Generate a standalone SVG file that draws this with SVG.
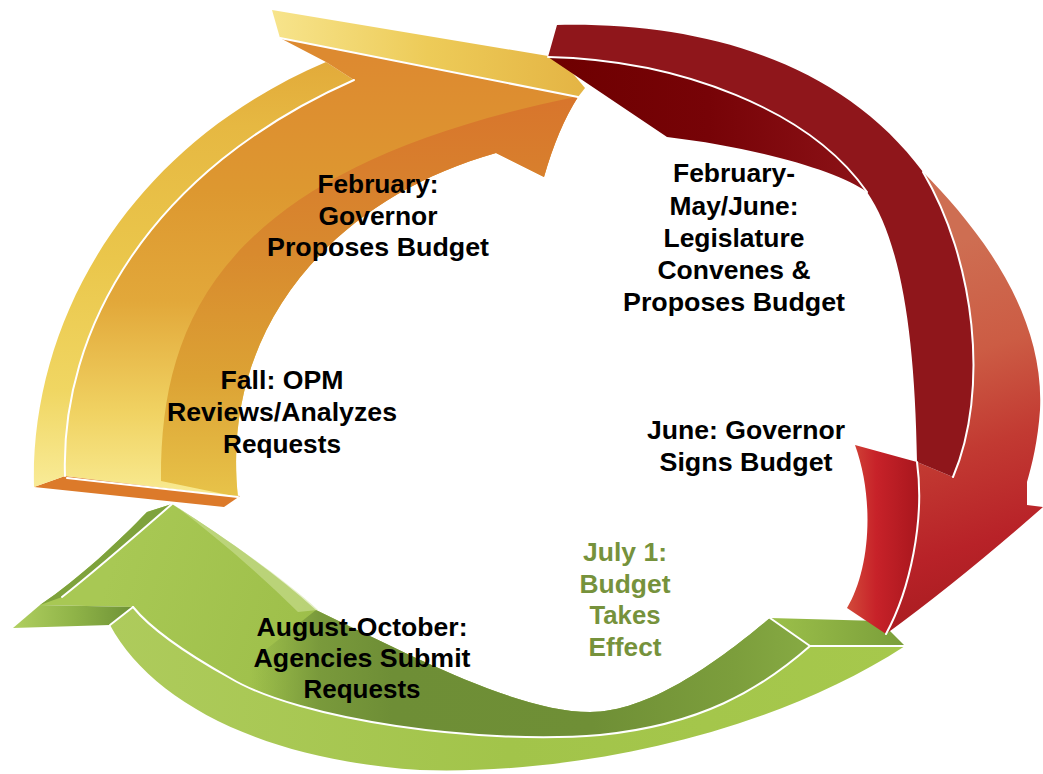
<svg xmlns="http://www.w3.org/2000/svg" width="1043" height="774" viewBox="0 0 1043 774">
<defs>
  <linearGradient id="ySide" gradientUnits="userSpaceOnUse" x1="0" y1="500" x2="0" y2="60">
    <stop offset="0" stop-color="#FAEE9E"/>
    <stop offset="0.25" stop-color="#F0D662"/>
    <stop offset="0.55" stop-color="#EAC64B"/>
    <stop offset="0.85" stop-color="#E6B842"/>
    <stop offset="1" stop-color="#E2AA3A"/>
  </linearGradient>
  <linearGradient id="yFront" gradientUnits="userSpaceOnUse" x1="0" y1="500" x2="0" y2="60">
    <stop offset="0" stop-color="#F9EC94"/>
    <stop offset="0.2" stop-color="#F0D262"/>
    <stop offset="0.45" stop-color="#E2A83A"/>
    <stop offset="0.7" stop-color="#DD9830"/>
    <stop offset="1" stop-color="#DD8A30"/>
  </linearGradient>
  <linearGradient id="yFrontDark" gradientUnits="userSpaceOnUse" x1="0" y1="500" x2="0" y2="90">
    <stop offset="0" stop-color="#E8C44A"/>
    <stop offset="0.3" stop-color="#DCA234"/>
    <stop offset="0.6" stop-color="#D88A2E"/>
    <stop offset="1" stop-color="#D8742C"/>
  </linearGradient>
  <linearGradient id="yTop" gradientUnits="userSpaceOnUse" x1="272" y1="0" x2="585" y2="0">
    <stop offset="0" stop-color="#F7E48C"/>
    <stop offset="0.5" stop-color="#EDCB58"/>
    <stop offset="1" stop-color="#E4B444"/>
  </linearGradient>
  <linearGradient id="rMaroon" gradientUnits="userSpaceOnUse" x1="550" y1="0" x2="867" y2="0">
    <stop offset="0" stop-color="#6E0000"/>
    <stop offset="0.5" stop-color="#770307"/>
    <stop offset="1" stop-color="#8C1217"/>
  </linearGradient>
  <linearGradient id="rSalmon" gradientUnits="userSpaceOnUse" x1="930" y1="250" x2="1040" y2="600">
    <stop offset="0" stop-color="#CE6E52"/>
    <stop offset="0.3" stop-color="#CC5C44"/>
    <stop offset="0.55" stop-color="#C23A32"/>
    <stop offset="0.8" stop-color="#B82228"/>
    <stop offset="1" stop-color="#A81C20"/>
  </linearGradient>
  <linearGradient id="rLeft" gradientUnits="userSpaceOnUse" x1="847" y1="0" x2="920" y2="0">
    <stop offset="0" stop-color="#D24A3A"/>
    <stop offset="0.4" stop-color="#C72229"/>
    <stop offset="1" stop-color="#A8161D"/>
  </linearGradient>
  <linearGradient id="gMain" gradientUnits="userSpaceOnUse" x1="120" y1="540" x2="420" y2="640">
    <stop offset="0" stop-color="#A8C854"/>
    <stop offset="0.6" stop-color="#9FC04B"/>
    <stop offset="1" stop-color="#8EB042"/>
  </linearGradient>
  <linearGradient id="gDark" gradientUnits="userSpaceOnUse" x1="250" y1="0" x2="820" y2="0">
    <stop offset="0" stop-color="#7A9C3C" stop-opacity="0"/>
    <stop offset="0.12" stop-color="#76963A" stop-opacity="0.9"/>
    <stop offset="0.25" stop-color="#6E8E36"/>
    <stop offset="0.6" stop-color="#6F8F36"/>
    <stop offset="0.85" stop-color="#7C9E3C"/>
    <stop offset="1" stop-color="#88AC44"/>
  </linearGradient>
  <linearGradient id="gLower" gradientUnits="userSpaceOnUse" x1="110" y1="0" x2="905" y2="0">
    <stop offset="0" stop-color="#AECB5C"/>
    <stop offset="0.5" stop-color="#A2C44A"/>
    <stop offset="1" stop-color="#A6C84C"/>
  </linearGradient>
  <linearGradient id="gBarb" gradientUnits="userSpaceOnUse" x1="13" y1="0" x2="133" y2="0">
    <stop offset="0" stop-color="#B0CF60"/>
    <stop offset="0.5" stop-color="#90B448"/>
    <stop offset="1" stop-color="#6E9236"/>
  </linearGradient>
  <linearGradient id="gTail" gradientUnits="userSpaceOnUse" x1="770" y1="0" x2="905" y2="0">
    <stop offset="0" stop-color="#9CC04A"/>
    <stop offset="1" stop-color="#7A9E3A"/>
  </linearGradient>
</defs>
<style>
  .lbl{font-family:"Liberation Sans",Arial,sans-serif;font-weight:bold;font-size:25px;text-anchor:middle;fill:#000}
  .grn{fill:#76923C}
  .wl{fill:none;stroke:#fff;stroke-width:2;stroke-linecap:round;stroke-linejoin:round}
</style>
<rect width="1043" height="774" fill="#fff"/>

<g id="connectors">
  <g id="arrow-green">
    <path d="M110,625 C150,700 260,760 420,770 C560,775 760,740 905,646 L810,646 C760,690 700,725 600,735 C480,745 300,720 230,678 C180,650 150,628 133,607 Z" fill="url(#gLower)"/>
    <path d="M172,504 C210,528 270,568 316,610 C420,660 520,712 590,712 C650,712 720,660 770,618 L810,646 C760,690 700,725 600,735 C480,745 300,720 230,678 C180,650 150,628 133,607 L40,605 C80,578 120,540 147,512 Z" fill="url(#gMain)"/>
    <path d="M316,610 C420,660 520,712 590,712 C650,712 720,660 770,618 L810,646 C760,690 700,725 600,735 C480,745 300,720 230,678 Z" fill="url(#gDark)"/>
    <path d="M174,505 C220,535 280,575 318,610 L298,612 C258,572 210,532 174,505 Z" fill="#D0E29C" opacity="0.55"/>
    <path d="M172,504 L147,512 C120,540 80,578 40,605 L62,597 C90,575 125,545 172,504 Z" fill="#7EA23C"/>
    <path d="M40,605 L133,607 L110,625 L13,628 Z" fill="url(#gBarb)"/>
    <path d="M770,618 L880,621 L905,646 L810,646 Z" fill="url(#gTail)"/>
    <path class="wl" d="M62,597 C90,575 125,545 172,504"/>
    <path class="wl" d="M110,625 L133,607"/>
    <path class="wl" d="M133,607 C150,628 180,650 230,678 C300,720 480,745 600,735 C700,725 760,690 810,646 L905,646"/>
    <path class="wl" d="M770,618 L810,646"/>
  </g>

  <g id="arrow-yellow">
    <path d="M34,487 L65,476 L240,496 L224,507 Z" fill="#DC7A2A"/>
    <path d="M34,487 C30,330 120,150 326,62 L354,80 C150,170 60,330 65,476 Z" fill="url(#ySide)"/>
    <path d="M65,476 C60,330 150,170 354,80 L326,62 L280,38 L578,97 Q558,128 544,177 L496,153 C330,200 220,330 238,497 Z" fill="url(#yFront)"/>
    <path d="M161,481 C160,320 220,170 575,97 L578,97 Q558,128 544,177 L496,153 C330,200 220,330 238,497 Z" fill="url(#yFrontDark)"/>
    <path d="M272,10 L560,58 L585,88 L578,97 L280,38 Z" fill="url(#yTop)"/>
    <path class="wl" d="M65,476 C60,330 150,170 354,80"/>
    <path class="wl" d="M280,38 L578,97"/>
    <path class="wl" d="M67,478 L238,497"/>
  </g>

  <g id="arrow-red">
    <path d="M923,172 C975,225 1045,310 1040,410 C1038,440 1032,465 1027,482 L1027,505 L1043,507 Q960,580 886,634 C910,590 925,520 917,462 L953,477 C990,390 975,260 923,172 Z" fill="url(#rSalmon)"/>
    <path d="M557,25 C700,22 840,60 923,172 C975,260 990,390 953,477 L917,462 C915,330 900,240 867,192 C810,110 680,60 548,57 Z" fill="#8F161B"/>
    <path d="M548,57 C680,60 810,110 867,192 C840,172 760,148 667,137 Z" fill="url(#rMaroon)"/>
    <path d="M855,445 L917,462 C925,520 910,590 886,634 L847,608 C870,570 875,500 855,445 Z" fill="url(#rLeft)"/>
    <path class="wl" d="M548,57 C680,60 810,110 867,192"/>
    <path class="wl" d="M923,172 C975,260 990,390 953,477"/>
    <path class="wl" d="M917,462 C925,520 910,590 886,634"/>
  </g>
</g>

<g id="node-governor-proposes">
  <text class="lbl" x="378" y="193" textLength="121" lengthAdjust="spacingAndGlyphs">February:</text>
  <text class="lbl" x="378" y="225" textLength="119" lengthAdjust="spacingAndGlyphs">Governor</text>
  <text class="lbl" x="378" y="256" textLength="222" lengthAdjust="spacingAndGlyphs">Proposes Budget</text>
</g>
<g id="node-opm-reviews">
  <text class="lbl" x="282" y="389" textLength="123" lengthAdjust="spacingAndGlyphs">Fall: OPM</text>
  <text class="lbl" x="282" y="421" textLength="230" lengthAdjust="spacingAndGlyphs">Reviews/Analyzes</text>
  <text class="lbl" x="282" y="453" textLength="118" lengthAdjust="spacingAndGlyphs">Requests</text>
</g>
<g id="node-legislature">
  <text class="lbl" x="734" y="182" textLength="122" lengthAdjust="spacingAndGlyphs">February-</text>
  <text class="lbl" x="734" y="215" textLength="129" lengthAdjust="spacingAndGlyphs">May/June:</text>
  <text class="lbl" x="734" y="247" textLength="141" lengthAdjust="spacingAndGlyphs">Legislature</text>
  <text class="lbl" x="734" y="279" textLength="153" lengthAdjust="spacingAndGlyphs">Convenes &amp;</text>
  <text class="lbl" x="734" y="311" textLength="222" lengthAdjust="spacingAndGlyphs">Proposes Budget</text>
</g>
<g id="node-governor-signs">
  <text class="lbl" x="746" y="439" textLength="198" lengthAdjust="spacingAndGlyphs">June: Governor</text>
  <text class="lbl" x="746" y="471" textLength="173" lengthAdjust="spacingAndGlyphs">Signs Budget</text>
</g>
<g id="node-budget-effect">
  <text class="lbl grn" x="625" y="561" textLength="84" lengthAdjust="spacingAndGlyphs">July 1:</text>
  <text class="lbl grn" x="625" y="593" textLength="91" lengthAdjust="spacingAndGlyphs">Budget</text>
  <text class="lbl grn" x="625" y="624" textLength="71" lengthAdjust="spacingAndGlyphs">Takes</text>
  <text class="lbl grn" x="625" y="656" textLength="73" lengthAdjust="spacingAndGlyphs">Effect</text>
</g>
<g id="node-agencies-submit">
  <text class="lbl" x="362" y="636" textLength="211" lengthAdjust="spacingAndGlyphs">August-October:</text>
  <text class="lbl" x="362" y="667" textLength="217" lengthAdjust="spacingAndGlyphs">Agencies Submit</text>
  <text class="lbl" x="362" y="698" textLength="117" lengthAdjust="spacingAndGlyphs">Requests</text>
</g>
</svg>
